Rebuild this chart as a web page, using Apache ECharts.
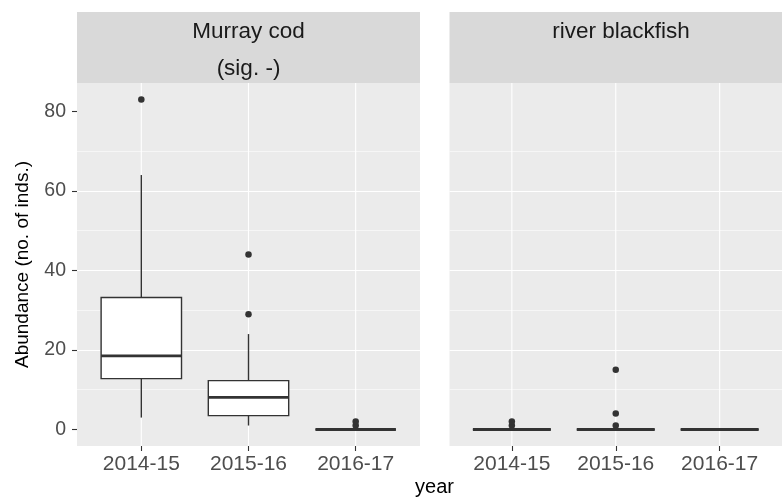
<!DOCTYPE html>
<html>
<head>
<meta charset="utf-8">
<script src="https://cdn.jsdelivr.net/npm/echarts@6/dist/echarts.min.js"></script>
<style>html,body{margin:0;padding:0;background:#fff}#c{width:782px;height:497px}</style>
</head>
<body>
<div id="c"></div>
<script>
// ---- data ----
const years = ['2014-15', '2015-16', '2016-17'];
const panels = ['Murray cod', 'river blackfish'];
const panelSubtitles = ['(sig. -)', ''];
// box stats per year: [lower whisker, Q1, median, Q3, upper whisker]
const codStats = [
  [3, 12.8, 18.5, 33.2, 64],
  [1, 3.5, 8.1, 12.3, 24],
  [0, 0, 0, 0, 0]
];
const codOutliers = [
  [83],
  [44, 29],
  [1, 2]
];
const blackfishStats = [
  [0, 0, 0, 0, 0],
  [0, 0, 0, 0, 0],
  [0, 0, 0, 0, 0]
];
const blackfishOutliers = [
  [1, 2],
  [1, 4, 15],
  []
];
const yTicks = [0, 20, 40, 60, 80];

// ---- build ----
const FONT = '"Liberation Sans", Arial, sans-serif';
const BOX_HALF = 0.375;
const DARK = '#333333';
const Y_MIN = -4.15, Y_MAX = 87.15;

function boxData(stats) { return stats.map((s, i) => [i + 1].concat(s)); }
function outlierData(outs) {
  const r = [];
  outs.forEach((list, i) => list.forEach(v => r.push([i + 1, v])));
  return r;
}
function renderBox(params, api) {
  const x = api.value(0), lo = api.value(1), q1 = api.value(2), med = api.value(3), q3 = api.value(4), hi = api.value(5);
  const pL = api.coord([x - BOX_HALF, q3]);
  const pR = api.coord([x + BOX_HALF, q1]);
  const c = api.coord([x, med]);
  const top = api.coord([x, hi]);
  const bot = api.coord([x, lo]);
  const ls = { stroke: DARK, lineWidth: 1.4 };
  return {
    type: 'group',
    children: [
      { type: 'line', shape: { x1: c[0], y1: top[1], x2: c[0], y2: pL[1] }, style: ls },
      { type: 'line', shape: { x1: c[0], y1: pR[1], x2: c[0], y2: bot[1] }, style: ls },
      { type: 'rect', shape: { x: pL[0], y: pL[1], width: pR[0] - pL[0], height: pR[1] - pL[1] }, style: { fill: '#ffffff', stroke: DARK, lineWidth: 1.4 } },
      { type: 'line', shape: { x1: pL[0], y1: c[1], x2: pR[0], y2: c[1] }, style: { stroke: DARK, lineWidth: 2.8 } }
    ]
  };
}
// vertical major grid lines at each category position
function renderVGrid(params, api) {
  const x = api.value(0);
  const a = api.coord([x, Y_MAX]);
  const b = api.coord([x, Y_MIN]);
  return { type: 'line', shape: { x1: a[0], y1: a[1], x2: b[0], y2: b[1] }, style: { stroke: '#ffffff', lineWidth: 1.1 } };
}

const gridTop = 83, gridH = 363, gridW = 343;
const gridLefts = [77, 449.5];
const catPositions = years.map((y, i) => [i + 1]);

function xAxis(i) {
  return {
    type: 'value', gridIndex: i, min: 0.4, max: 3.6,
    axisLine: { show: false, onZero: false },
    axisTick: { show: true, length: 5, lineStyle: { color: DARK, width: 1.1 }, customValues: [1, 2, 3] },
    axisLabel: { show: true, customValues: [1, 2, 3], formatter: v => years[Math.round(v) - 1] || '', color: '#4d4d4d', fontSize: 21, fontFamily: FONT, margin: 8 },
    splitLine: { show: false },
    minorSplitLine: { show: false }
  };
}
function yAxis(i) {
  return {
    type: 'value', gridIndex: i, min: Y_MIN, max: Y_MAX,
    axisLine: { show: false, onZero: false },
    axisTick: { show: i === 0, length: 5, lineStyle: { color: DARK, width: 1.1 }, customValues: yTicks },
    axisLabel: { show: i === 0, customValues: yTicks, color: '#4d4d4d', fontSize: 19.5, fontFamily: FONT, margin: 11, formatter: v => String(Math.round(v)) },
    splitLine: { show: true, lineStyle: { color: '#ffffff', width: 1.1 }, showMinLine: false, showMaxLine: false },
    minorTick: { show: false, splitNumber: 2 },
    minorSplitLine: { show: true, lineStyle: { color: '#ffffff', width: 0.55 } },
    name: i === 0 ? 'Abundance (no. of inds.)' : '',
    nameLocation: 'middle', nameGap: 45,
    nameTextStyle: { color: '#000000', fontSize: 19, fontFamily: FONT }
  };
}

const graphics = [];
panels.forEach((p, i) => {
  graphics.push({ type: 'rect', left: gridLefts[i], top: 12, shape: { width: gridW, height: 71 }, style: { fill: '#d9d9d9' }, silent: true });
  graphics.push({ type: 'text', x: gridLefts[i] + gridW / 2, y: 32, style: { text: p, fill: '#1a1a1a', font: '22.5px ' + FONT, textAlign: 'center', textVerticalAlign: 'middle' } });
  if (panelSubtitles[i]) graphics.push({ type: 'text', x: gridLefts[i] + gridW / 2, y: 69, style: { text: panelSubtitles[i], fill: '#1a1a1a', font: '22.5px ' + FONT, textAlign: 'center', textVerticalAlign: 'middle' } });
});
graphics.push({ type: 'text', x: 434.5, y: 487, style: { text: 'year', fill: '#000000', font: '20px ' + FONT, textAlign: 'center', textVerticalAlign: 'middle' } });

const option = {
  animation: false,
  backgroundColor: '#ffffff',
  grid: gridLefts.map(l => ({ left: l, top: gridTop, width: gridW, height: gridH, show: true, backgroundColor: '#ebebeb', borderWidth: 0, containLabel: false })),
  xAxis: [xAxis(0), xAxis(1)],
  yAxis: [yAxis(0), yAxis(1)],
  graphic: graphics,
  series: [
    { type: 'custom', xAxisIndex: 0, yAxisIndex: 0, renderItem: renderVGrid, data: catPositions, encode: { x: 0 }, z: 1, silent: true },
    { type: 'custom', xAxisIndex: 1, yAxisIndex: 1, renderItem: renderVGrid, data: catPositions, encode: { x: 0 }, z: 1, silent: true },
    { type: 'custom', xAxisIndex: 0, yAxisIndex: 0, renderItem: renderBox, data: boxData(codStats), encode: { x: 0, y: [1, 2, 3, 4, 5] }, z: 2 },
    { type: 'custom', xAxisIndex: 1, yAxisIndex: 1, renderItem: renderBox, data: boxData(blackfishStats), encode: { x: 0, y: [1, 2, 3, 4, 5] }, z: 2 },
    { type: 'scatter', xAxisIndex: 0, yAxisIndex: 0, data: outlierData(codOutliers), symbolSize: 6.5, itemStyle: { color: DARK, opacity: 1 }, z: 3 },
    { type: 'scatter', xAxisIndex: 1, yAxisIndex: 1, data: outlierData(blackfishOutliers), symbolSize: 6.5, itemStyle: { color: DARK, opacity: 1 }, z: 3 }
  ]
};
const chart = echarts.init(document.getElementById('c'), null, { renderer: 'canvas' });
chart.setOption(option);
</script>
</body>
</html>
